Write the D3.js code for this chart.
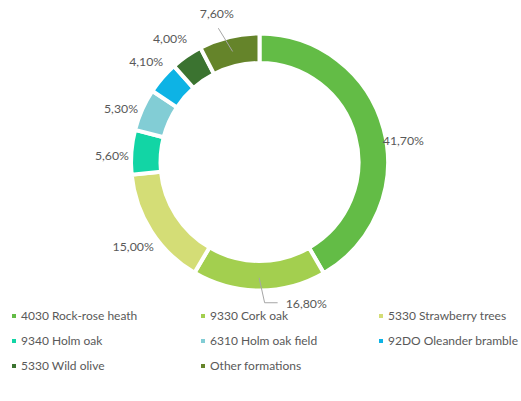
<!DOCTYPE html>
<html>
<head>
<meta charset="utf-8">
<script src="https://cdn.jsdelivr.net/npm/d3@7"></script>
<style>
  html, body { margin: 0; padding: 0; background: #fff; }
  svg { display: block; }
  text { font-family: Lato, "Open Sans", sans-serif; fill: #595959; }
</style>
</head>
<body>
<svg id="chart" width="521" height="401"></svg>
<script>
// Habitat types and their share of the area (%)
const categories = [
  "4030 Rock-rose heath", "9330 Cork oak", "5330 Strawberry trees",
  "9340 Holm oak", "6310 Holm oak field", "92DO Oleander bramble",
  "5330 Wild olive", "Other formations"
];
const shares = [41.7, 16.8, 15.0, 5.6, 5.3, 4.1, 4.0, 7.6];
const colors = ["#63bc46", "#a3cf4f", "#d4dd76", "#12d5a5", "#82cdd5", "#0db3e5", "#3b7330", "#65842a"];

// Layout
const cx = 259.5, cy = 162;
const outerR = 128.5, innerR = 99;
const labelR = 150;
// small per-label adjustments of the outside labels [dx, dy]
const labelNudge = [[-1, 19], [0, 0], [0, 5], [2, 6.5], [-1.5, 9], [0, -1], [-4.5, 1.5], [0, 0]];

const fmt = v => d3.format(".2f")(v).replace(".", ",") + "%";

const svg = d3.select("#chart");
const g = svg.append("g").attr("transform", `translate(${cx},${cy})`);

const pie = d3.pie().sort(null).value(d => d.value);
const data = categories.map((c, i) => ({ name: c, value: shares[i], color: colors[i] }));
const arcs = pie(data);
const arc = d3.arc().innerRadius(innerR).outerRadius(outerR);

g.selectAll("path.slice")
  .data(arcs)
  .join("path")
  .attr("class", "slice")
  .attr("d", arc)
  .attr("fill", d => d.data.color)
  .attr("stroke", "#fff")
  .attr("stroke-width", 4)
  .attr("stroke-linejoin", "miter");

const mid = d => (d.startAngle + d.endAngle) / 2;
const polar = (a, r) => [Math.sin(a) * r, -Math.cos(a) * r];
const ringMid = (innerR + outerR) / 2;

// Labels placed around the ring
arcs.forEach((d, i) => {
  const label = fmt(d.data.value);
  if (d.data.name === "9330 Cork oak") {
    // leader line bending to the right below the ring
    const [sx, sy] = polar(mid(d), ringMid + 2);
    const p1 = [sx + 5.5, sy + 25];
    const p2 = [p1[0] + 13, p1[1]];
    g.append("polyline")
      .attr("points", [[sx, sy], p1, p2].map(p => p.join(",")).join(" "))
      .attr("fill", "none").attr("stroke", "#a6a6a6").attr("stroke-width", 1);
    g.append("text")
      .attr("x", p2[0] + 8).attr("y", p2[1] + 2)
      .attr("dominant-baseline", "middle")
      .attr("font-size", 12.3)
      .text(label);
  } else if (d.data.name === "Other formations") {
    const [sx, sy] = polar(mid(d), ringMid);
    const [ex, ey] = polar(mid(d) - 0.06, 140);
    g.append("line")
      .attr("x1", sx).attr("y1", sy).attr("x2", ex).attr("y2", ey)
      .attr("stroke", "#a6a6a6").attr("stroke-width", 1);
    g.append("text")
      .attr("x", ex - 1.5).attr("y", ey - 13)
      .attr("text-anchor", "middle")
      .attr("dominant-baseline", "middle")
      .attr("font-size", 12.3)
      .text(label);
  } else {
    const [x, y] = polar(mid(d), labelR);
    g.append("text")
      .attr("x", x + labelNudge[i][0]).attr("y", y + labelNudge[i][1])
      .attr("text-anchor", "middle")
      .attr("dominant-baseline", "middle")
      .attr("font-size", 12.3)
      .text(label);
  }
});

// Legend: three columns, row-major order
const colX = [14, 203, 381];
const rowY = [316, 341, 366];
const legend = svg.append("g");
data.forEach((d, i) => {
  const x = colX[i % 3], y = rowY[Math.floor(i / 3)];
  legend.append("rect")
    .attr("x", x - 2).attr("y", y - 2)
    .attr("width", 4).attr("height", 4)
    .attr("fill", d.color);
  legend.append("text")
    .attr("x", x + 7).attr("y", y + 0.5)
    .attr("dominant-baseline", "middle")
    .attr("font-size", 12)
    .text(d.name);
});
</script>
</body>
</html>
